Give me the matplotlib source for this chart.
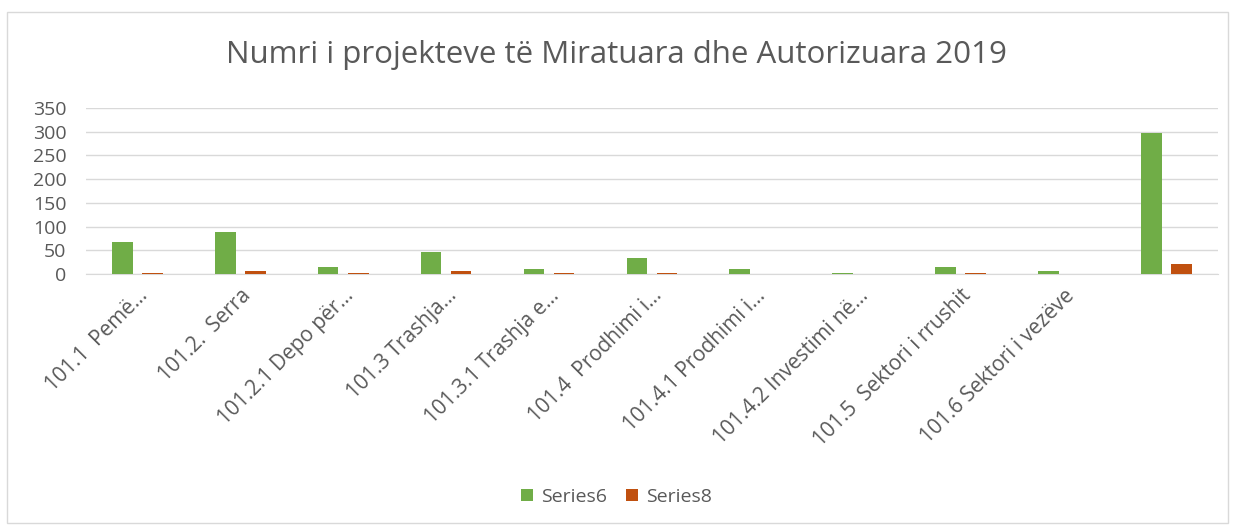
import numpy as np
import matplotlib.pyplot as plt
from matplotlib.patches import Rectangle

plt.rcParams['font.family'] = ['Open Sans', 'DejaVu Sans']

categories = ["101.1  Pemë...", "101.2.  Serra", "101.2.1 Depo për...", "101.3 Trashja...",
              "101.3.1 Trashja e...", "101.4  Prodhimi i...", "101.4.1 Prodhimi i...",
              "101.4.2 Investimi në...", "101.5  Sektori i rrushit", "101.6 Sektori i vezëve", ""]
series6 = [67, 89, 15, 46, 10, 34, 10, 2, 14, 6, 298]
series8 = [2, 6, 2, 6, 2, 2, 0, 0, 2, 0, 22]

text_col = "#595959"
fig = plt.figure(figsize=(12.33, 5.27), dpi=100)
ax = fig.add_axes([0.0697, 0.48, 0.918, 0.315])

x = np.arange(len(categories))
w = 0.2
ax.bar(x - 0.146, series6, w, color="#70ad47", label="Series6", zorder=3)
ax.bar(x + 0.146, series8, w, color="#c0500f", label="Series8", zorder=3)

ax.set_xlim(-0.5, len(categories) - 0.5)
ax.set_ylim(0, 350)
ax.set_yticks(range(0, 351, 50))
ax.yaxis.grid(True, color="#d9d9d9", linewidth=1, zorder=0)
ax.set_xticks(x)
ax.set_xticklabels(categories, rotation=45, ha="right", rotation_mode="anchor")
ax.tick_params(length=0, labelsize=14, colors=text_col)
ax.tick_params(axis="x", labelsize=15, pad=8)
ax.tick_params(axis="y", pad=14)
for s in ["top", "right", "left"]:
    ax.spines[s].set_visible(False)
ax.spines["bottom"].set_color("#d9d9d9")

fig.suptitle("Numri i projekteve të Miratuara dhe Autorizuara 2019", y=0.925,
             fontsize=22.5, color=text_col)
fig.legend(loc="center", bbox_to_anchor=(0.5, 0.057), ncol=2, frameon=False,
           fontsize=14, handlelength=0.6, handleheight=0.6, columnspacing=1.0,
           labelcolor=text_col, handletextpad=0.4)

fig.patches.append(Rectangle((0.006, 0.008), 0.99, 0.97, transform=fig.transFigure,
                             fill=False, edgecolor="#d9d9d9", linewidth=1))

fig.savefig("out.png", dpi=100)
